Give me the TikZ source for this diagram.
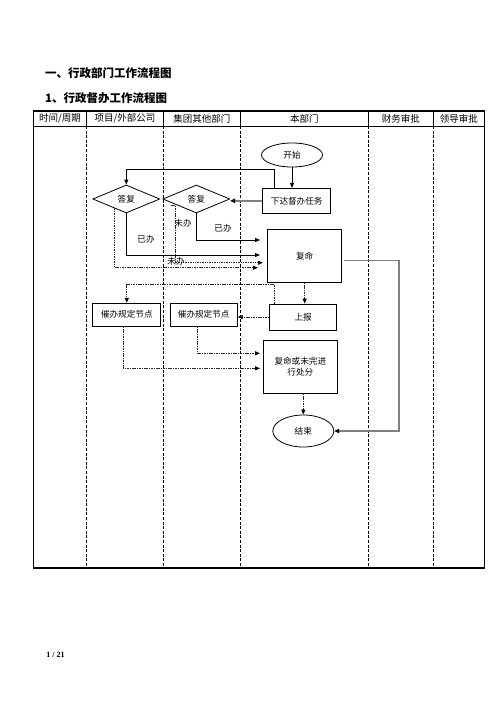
\documentclass[tikz,border=0pt]{standalone}
\usepackage{fontspec}
\setmainfont{Noto Sans CJK SC}
\newfontfamily\pgfont{Liberation Serif}
\usetikzlibrary{arrows.meta,shapes.geometric,calc}
\begin{document}
\begin{tikzpicture}[x=1pt,y=-1pt,
  box/.style={draw,line width=0.8pt,inner sep=1pt,font=\fontsize{8.6}{11}\selectfont},
  oval/.style={draw,ellipse,line width=0.8pt,inner sep=0pt,minimum width=61pt,minimum height=24pt,font=\fontsize{8.6}{10}\selectfont},
  dia/.style={draw,diamond,line width=0.8pt,inner sep=0pt,shape aspect=2.4,minimum width=67pt,minimum height=28pt,font=\fontsize{8.6}{10}\selectfont},
  hdr/.style={font=\fontsize{9.5}{11}\selectfont,inner sep=0pt},
  lbl/.style={font=\fontsize{8.6}{10}\selectfont,inner sep=0pt},
  ttl/.style={anchor=west,inner sep=0pt,font=\bfseries\fontsize{11.5}{13}\selectfont},
  sarr/.style={draw,line width=0.8pt,-{Triangle[length=5pt,width=4pt]}},
  garr/.style={draw=black!50,line width=1.4pt,-{Triangle[length=5pt,width=4.5pt,color=black]}},
  darr/.style={draw=black!85,line width=1pt,dash pattern=on 1.5pt off 0.9pt,-{Triangle[length=5pt,width=4pt,color=black]}},
  divh/.style={line width=0.8pt},
  divb/.style={line width=0.8pt,dash pattern=on 3pt off 1.6pt}]
\useasboundingbox (0,0) rectangle (496,702);
% titles
\node[ttl] (ti1) at (45,73.5) {一、行政部门工作流程图};
\node[ttl] (ti2) at (45,98) {1、行政督办工作流程图};
% table
\draw[line width=1.2pt] (33.3,111) rectangle (484.3,568);
\draw[line width=0.8pt] (33.3,126) -- (484.3,126);
\foreach \x in {86.7,163.3,240.3,368.3,433.3}{
  \draw[divh] (\x,111) -- (\x,126);
  \draw[divb] (\x,126) -- (\x,568);
}
\node[hdr] (h1) at (60,118.5) {时间/周期};
\node[hdr] (h2) at (125,118.5) {项目/外部公司};
\node[hdr] (h3) at (201.8,118.5) {集团其他部门};
\node[hdr] (h4) at (304.3,118.5) {本部门};
\node[hdr] (h5) at (400.8,118.5) {财务审批};
\node[hdr] (h6) at (458.8,118.5) {领导审批};
% nodes
\node[oval] (kaishi) at (292,155) {开始};
\node[box,minimum width=68pt,minimum height=25pt] (xiada) at (296.7,200.8) {下达督办任务};
\node[dia] (da1) at (126.3,199) {答复};
\node[dia] (da2) at (196.3,199) {答复};
\node[box,minimum width=74pt,minimum height=53pt] (fuming) at (304.7,255.7) {复命};
\node[box,minimum width=67pt,minimum height=26pt] (shangbao) at (303,317) {上报};
\node[box,minimum width=68pt,minimum height=23pt] (cui1) at (126.8,314.7) {催办规定节点};
\node[box,minimum width=67pt,minimum height=23pt] (cui2) at (203.7,314.7) {催办规定节点};
\node[box,minimum width=74pt,minimum height=53pt,align=center] (fmwc) at (300.3,366.7) {复命或未完进\\行处分};
\node[oval,minimum height=32pt] (jieshu) at (303.3,431) {结束};
% connectors
\draw[sarr] (kaishi.south) -- (kaishi.south |- xiada.north);
\draw[sarr] ([xshift=11.6pt]xiada.north west) -- ++(0,-19) -| (da1.north);
\draw[garr] (xiada.west) -- (xiada.west -| da2.east);
\coordinate (t1) at (260,240);
\coordinate (t2) at (260,255);
\coordinate (s3) at (171,205);
\coordinate (t3) at (263,262.7);
\coordinate (t4) at (258,267.7);
\draw[sarr] (da2.south) |- (t1);
\draw[sarr] (da1.south) |- (t2);
\draw[darr] (s3) -- ++(4,0) |- (t3);
\draw[darr] ($(da1.south west)!0.3!(da1.south)$) |- (t4);
\node[lbl] (l1) at (223,228) {已办};
\node[lbl] (l2) at (146,239) {已办};
\node[lbl] (l3) at (183,223) {未办};
\node[lbl] (l4) at (176,261) {未办};
\draw[garr] ([shift={(2pt,-5pt)}]fuming.east) -- ++(55,0) |- (jieshu.east);
\draw[darr] (fuming.south) -- (fuming.south |- shangbao.north);
\draw[darr] ([xshift=5pt]shangbao.north west) -- ++(0,-19) -| (cui1.north);
\draw[darr] (shangbao.west) -- (shangbao.west -| cui2.east);
\coordinate (t5) at (260,353.3);
\coordinate (t6) at (260,368.3);
\draw[darr] ([xshift=-6.4pt]cui2.south) |- (t5);
\draw[darr] ([xshift=-3.5pt]cui1.south) |- (t6);
\draw[darr] (jieshu.north |- fmwc.south) -- (jieshu.north);
% page number
\node[inner sep=0pt,font=\pgfont\bfseries\fontsize{8}{9}\selectfont] (pn) at (55.5,655) {1 / 21};
\end{tikzpicture}
\end{document}
